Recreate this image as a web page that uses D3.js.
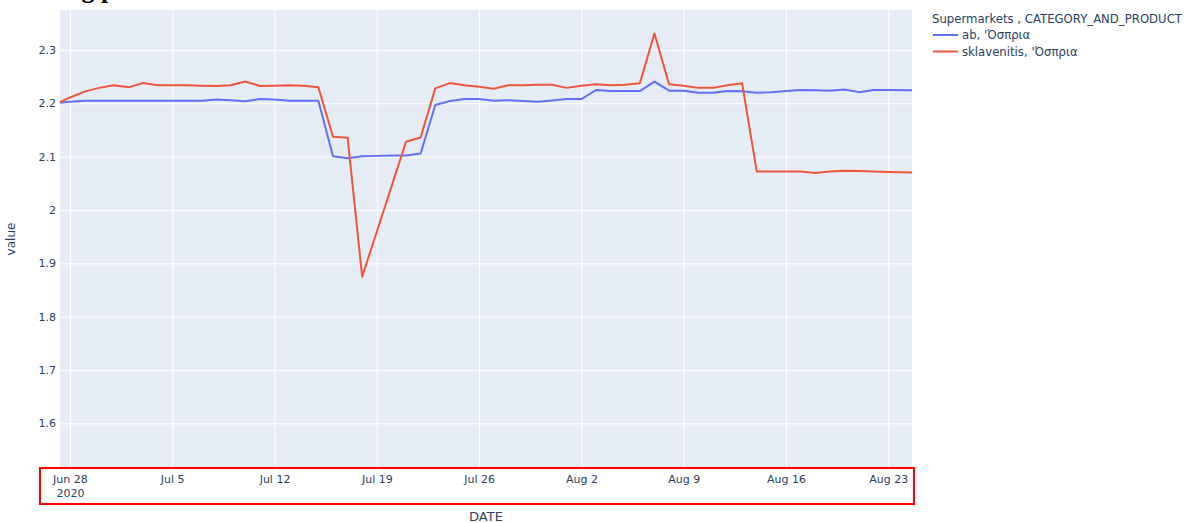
<!DOCTYPE html>
<html>
<head>
<meta charset="utf-8">
<script src="https://cdn.jsdelivr.net/npm/d3@7/dist/d3.min.js"></script>
<style>
  html, body { margin: 0; padding: 0; background: #fff; }
  svg { display: block; }
</style>
</head>
<body>
<svg id="chart" width="1193" height="523"></svg>
<script>
// ---------- data ----------
const dates = [
  "2020-06-27T07:40","2020-06-28","2020-06-29","2020-06-30","2020-07-01","2020-07-02","2020-07-03",
  "2020-07-04","2020-07-05","2020-07-06","2020-07-07","2020-07-08","2020-07-09","2020-07-10",
  "2020-07-11","2020-07-12","2020-07-13","2020-07-14","2020-07-15","2020-07-16","2020-07-17",
  "2020-07-18","2020-07-19","2020-07-20","2020-07-21","2020-07-22","2020-07-23","2020-07-24",
  "2020-07-25","2020-07-26","2020-07-27","2020-07-28","2020-07-29","2020-07-30","2020-07-31",
  "2020-08-01","2020-08-02","2020-08-03","2020-08-04","2020-08-05","2020-08-06","2020-08-07",
  "2020-08-08","2020-08-09","2020-08-10","2020-08-11","2020-08-12","2020-08-13","2020-08-14",
  "2020-08-15","2020-08-16","2020-08-17","2020-08-18","2020-08-19","2020-08-20","2020-08-21",
  "2020-08-22","2020-08-23","2020-08-24T15:00"
];
const abValues = [
  2.201,2.203,2.205,2.205,2.205,2.205,2.205,
  2.205,2.205,2.205,2.205,2.207,2.206,2.204,
  2.208,2.207,2.205,2.205,2.205,2.101,2.097,
  2.101,2.1015,2.102,2.102,2.106,2.197,2.2045,
  2.208,2.208,2.205,2.206,2.2045,2.203,2.2055,
  2.208,2.208,2.225,2.223,2.223,2.223,2.2406,
  2.2237,2.2237,2.220,2.220,2.223,2.2225,2.220,
  2.221,2.223,2.225,2.2244,2.2237,2.226,2.221,
  2.225,2.225,2.2244
];
const sklavenitisValues = [
  2.202,2.211,2.222,2.229,2.234,2.230,2.238,
  2.234,2.234,2.234,2.233,2.2325,2.234,2.241,
  2.2325,2.233,2.234,2.233,2.230,2.1375,2.1356,
  1.875,null,null,2.128,2.136,2.228,2.238,
  2.234,2.231,2.2275,2.234,2.234,2.235,2.235,
  2.229,2.233,2.236,2.234,2.235,2.2375,2.331,
  2.2357,2.233,2.229,2.229,2.234,2.2375,2.072,
  2.072,2.072,2.072,2.0695,2.072,2.0735,2.073,
  2.072,2.0715,2.0705
];
const seriesNames = ["ab, 'Όσπρια", "sklavenitis, 'Όσπρια"];
const seriesColors = ["#636efa", "#EF553B"];
const legendTitle = "Supermarkets , CATEGORY_AND_PRODUCT";
const xTickDates = ["2020-06-28","2020-07-05","2020-07-12","2020-07-19","2020-07-26","2020-08-02","2020-08-09","2020-08-16","2020-08-23"];
const xTickLabels = ["Jun 28","Jul 5","Jul 12","Jul 19","Jul 26","Aug 2","Aug 9","Aug 16","Aug 23"];
const yTicks = [1.6,1.7,1.8,1.9,2.0,2.1,2.2,2.3];
const yDomain = [1.5163, 2.375];
const xTitle = "DATE", yTitle = "value";

// ---------- layout ----------
const svg = d3.select("#chart");
const W = 1193, H = 523;
const plot = {left: 60, right: 912, top: 10, bottom: 468};
const FONT = "'DejaVu Sans', Verdana, sans-serif";
const TXT = "#2a3f5f";

svg.append("rect").attr("width", W).attr("height", H).attr("fill", "#fff");

// cropped heading fragment at very top (cut off in the reference too)
svg.append("text").attr("x", 67).attr("y", -2.5)
  .attr("font-family", "'Liberation Serif', 'DejaVu Serif', serif")
  .attr("font-weight", "bold").attr("font-size", 26).attr("fill", "#000")
  .text("ng p");

const parse = s => new Date(s.length > 10 ? s : s + "T00:00");
const xDates = dates.map(parse);

const x = d3.scaleTime()
  .domain(d3.extent(xDates))
  .range([plot.left, plot.right]);
const y = d3.scaleLinear().domain(yDomain).range([plot.bottom, plot.top]);

svg.append("rect")
  .attr("x", plot.left).attr("y", plot.top)
  .attr("width", plot.right - plot.left).attr("height", plot.bottom - plot.top)
  .attr("fill", "#E5ECF6");

// grid via axes
const tickDates = xTickDates.map(parse);
const xGrid = d3.axisBottom(x).tickValues(tickDates).tickSize(-(plot.bottom - plot.top)).tickFormat("");
svg.append("g").attr("transform", `translate(0,${plot.bottom})`).call(xGrid)
  .call(g => g.select(".domain").remove())
  .call(g => g.selectAll("line").attr("stroke", "#fff").attr("stroke-width", 1));

const yGrid = d3.axisLeft(y).tickValues(yTicks).tickSize(-(plot.right - plot.left)).tickFormat("");
svg.append("g").attr("transform", `translate(${plot.left},0)`).call(yGrid)
  .call(g => g.select(".domain").remove())
  .call(g => g.selectAll("line").attr("stroke", "#fff").attr("stroke-width", 1));

// y tick labels
const yAxis = d3.axisLeft(y).tickValues(yTicks).tickSize(0).tickPadding(4)
  .tickFormat(d => d3.format("~g")(d));
svg.append("g").attr("transform", `translate(${plot.left},0)`).call(yAxis)
  .call(g => g.select(".domain").remove())
  .call(g => g.selectAll("text").attr("fill", TXT).attr("font-family", FONT).attr("font-size", 11));

// x tick labels
const xAxis = d3.axisBottom(x).tickValues(tickDates).tickSize(0).tickPadding(7)
  .tickFormat((d, i) => xTickLabels[i]);
const xg = svg.append("g").attr("transform", `translate(0,${plot.bottom})`).call(xAxis);
xg.select(".domain").remove();
xg.selectAll("text").attr("fill", TXT).attr("font-family", FONT).attr("font-size", 11);
xg.selectAll(".tick").filter((d, i) => i === 0).append("text")
  .attr("y", 21).attr("dy", "0.71em").attr("text-anchor", "middle")
  .attr("fill", TXT).attr("font-family", FONT).attr("font-size", 11).text("2020");

// lines
const line = d3.line().x(d => x(d.date)).y(d => y(d.value));
[abValues, sklavenitisValues].forEach((vals, si) => {
  const pts = xDates.map((d, i) => ({date: d, value: vals[i]})).filter(p => p.value != null);
  svg.append("path").datum(pts)
    .attr("d", line)
    .attr("fill", "none")
    .attr("stroke", seriesColors[si])
    .attr("stroke-width", 2)
    .attr("stroke-linejoin", "round");
});

// axis titles
svg.append("text").attr("transform", `translate(15,${(plot.top + plot.bottom) / 2}) rotate(-90)`)
  .attr("text-anchor", "middle").attr("fill", TXT).attr("font-family", FONT).attr("font-size", 12)
  .text(yTitle);
svg.append("text").attr("x", 486).attr("y", 521)
  .attr("text-anchor", "middle").attr("fill", TXT).attr("font-family", FONT).attr("font-size", 13)
  .text(xTitle);

// legend
const lg = svg.append("g").attr("transform", "translate(932,0)");
lg.append("text").attr("x", 0).attr("y", 23).attr("fill", TXT)
  .attr("font-family", FONT).attr("font-size", 11.7).text(legendTitle);
seriesNames.forEach((n, i) => {
  const yy = 35 + i * 16.5;
  lg.append("line").attr("x1", 1).attr("x2", 26).attr("y1", yy).attr("y2", yy)
    .attr("stroke", seriesColors[i]).attr("stroke-width", 2);
  lg.append("text").attr("x", 30).attr("y", yy + 4).attr("fill", TXT)
    .attr("font-family", FONT).attr("font-size", 11.7).text(n);
});

// red highlight box around x tick labels
svg.append("rect").attr("x", 40).attr("y", 468).attr("width", 874).attr("height", 36)
  .attr("fill", "none").attr("stroke", "#ff0000").attr("stroke-width", 2);
</script>
</body>
</html>
